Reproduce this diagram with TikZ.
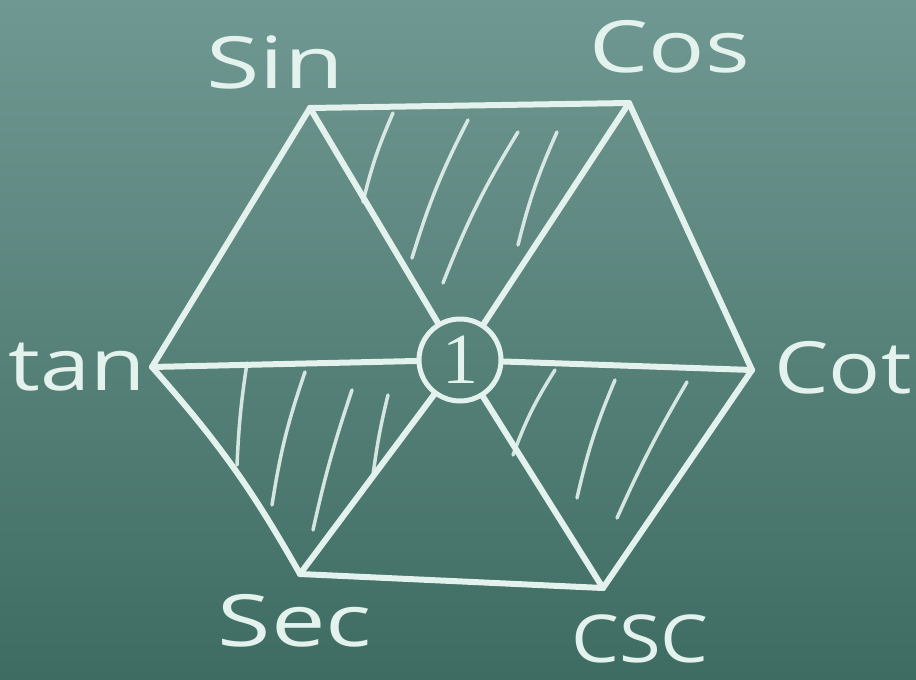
\documentclass[tikz,border=0pt]{standalone}
\usepackage{fontspec}
\setmainfont{Open Sans}
\newfontfamily\digitfont{Liberation Serif}
\definecolor{boardtop}{RGB}{112,152,146}
\definecolor{boardbot}{RGB}{62,108,98}
\definecolor{chalk}{RGB}{228,242,238}
\tikzset{
  chalkline/.style={draw=chalk, line width=6pt, line cap=round},
  hatchline/.style={draw=chalk, line width=3.5pt, line cap=round, opacity=0.9},
  fnlabel/.style={text=chalk, anchor=base, inner sep=0pt,
    font=\fontsize{72}{72}\selectfont},
}
\begin{document}
\begin{tikzpicture}[x=1pt,y=-1pt]
\shade[top color=boardtop, bottom color=boardbot] (0,0) rectangle (916,680);
\useasboundingbox (0,0) rectangle (916,680);
% vertices
\coordinate (sin) at (310,108);
\coordinate (cos) at (629,103);
\coordinate (cot) at (752,370);
\coordinate (csc) at (603,588);
\coordinate (sec) at (300,574);
\coordinate (tan) at (152,367);
\node[circle, draw=chalk, line width=5pt, minimum size=82pt, inner sep=0pt,
      outer sep=2pt, text=chalk] (one) at (460,360)
      {\digitfont\fontsize{72}{72}\selectfont 1};
% hexagon edges
\draw[chalkline] (sin) -- (cos);
\draw[chalkline] (cos) -- (cot);
\draw[chalkline] (cot) -- (csc);
\draw[chalkline] (csc) -- (sec);
\draw[chalkline] (sec) to[bend right=6] (tan);
\draw[chalkline] (tan) -- (sin);
% spokes
\draw[chalkline] (sin) -- (one);
\draw[chalkline] (cos) -- (one);
\draw[chalkline] (cot) -- (one);
\draw[chalkline] (csc) -- (one);
\draw[chalkline] (sec) -- (one);
\draw[chalkline] (tan) -- (one);
% hatching top triangle
\coordinate (h1a) at (393,113); \coordinate (h1b) at (363,202);
\coordinate (h2a) at (468,120); \coordinate (h2b) at (412,258);
\coordinate (h3a) at (518,132); \coordinate (h3b) at (443,283);
\coordinate (h4a) at (557,132); \coordinate (h4b) at (518,245);
\draw[hatchline] (h1a) to[bend right=5] (h1b);
\draw[hatchline] (h2a) to[bend right=5] (h2b);
\draw[hatchline] (h3a) to[bend right=5] (h3b);
\draw[hatchline] (h4a) to[bend right=5] (h4b);
% hatching lower-left triangle
\coordinate (l1a) at (247,363); \coordinate (l1b) at (237,465);
\coordinate (l2a) at (305,372); \coordinate (l2b) at (272,505);
\coordinate (l3a) at (352,390); \coordinate (l3b) at (313,530);
\coordinate (l4a) at (388,395); \coordinate (l4b) at (373,475);
\draw[hatchline] (l1a) to[bend right=3] (l1b);
\draw[hatchline] (l2a) to[bend right=5] (l2b);
\draw[hatchline] (l3a) to[bend right=3] (l3b);
\draw[hatchline] (l4a) to[bend right=3] (l4b);
% hatching lower-right triangle
\coordinate (r1a) at (555,370); \coordinate (r1b) at (513,455);
\coordinate (r2a) at (615,380); \coordinate (r2b) at (577,498);
\coordinate (r3a) at (687,382); \coordinate (r3b) at (617,518);
\draw[hatchline] (r1a) to[bend right=6] (r1b);
\draw[hatchline] (r2a) to[bend right=5] (r2b);
\draw[hatchline] (r3a) to[bend right=3] (r3b);
% labels
\node[fnlabel] (lsin) at (275,88) {\scalebox{1.35}[1]{Sin}};
\node[fnlabel] (lcos) at (670,72) {\scalebox{1.3}[1]{Cos}};
\node[fnlabel] (ltan) at (77,390) {\scalebox{1.25}[1]{tan}};
\node[fnlabel] (lcot) at (843,393) {\scalebox{1.2}[1]{Cot}};
\node[fnlabel] (lsec) at (295,646) {\scalebox{1.35}[1]{Sec}};
\node[fnlabel, font=\fontsize{66}{66}\selectfont] (lcsc) at (640,662) {\scalebox{1.15}[1]{CSC}};
\end{tikzpicture}
\end{document}
